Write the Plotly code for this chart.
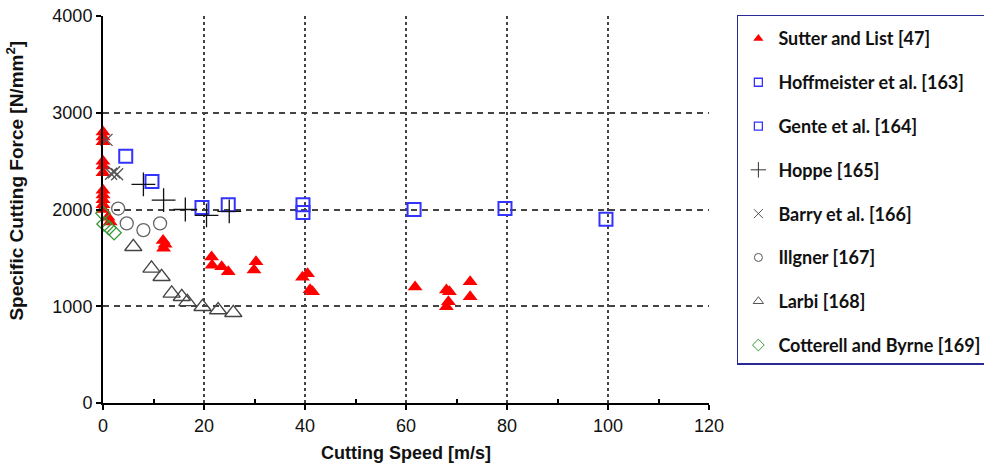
import plotly.graph_objects as go

# ---- data ----
sutter_x = [0, 0, 0, 0, 0, 0, 0, 0, 0, 0, 0, 1.0, 1.4,
            11.9, 12.3, 12.0,
            21.5, 21.6, 23.5, 24.8, 30.3, 29.9,
            39.5, 40.5, 41.0, 41.5,
            61.8, 68.0, 68.6, 68.4, 68.0, 72.7, 72.7]
sutter_y = [2800, 2750, 2700, 2500, 2450, 2380, 2200, 2150, 2100, 2050, 2000, 1920, 1870,
            1680, 1640, 1600,
            1510, 1425, 1408, 1356, 1460, 1374,
            1300, 1335, 1170, 1150,
            1200, 1167, 1150, 1046, 995, 1253, 1098]

hoff_x = [4.5, 9.7, 19.6, 24.8]
hoff_y = [2550, 2290, 2020, 2050]

gente_x = [39.6, 39.6, 61.6, 79.6, 99.6]
gente_y = [2050, 1970, 2000, 2010, 1900]

hoppe_x = [8.0, 12.0, 16.3, 20.5, 25.0]
hoppe_y = [2260, 2097, 2000, 1940, 1980]

barry_x = [0.7, 1.6, 2.2, 2.8]
barry_y = [2720, 2370, 2385, 2365]

illgner_x = [3.0, 4.7, 8.0, 11.3]
illgner_y = [2010, 1856, 1787, 1856]

larbi_x = [6.0, 9.6, 11.6, 13.6, 15.6, 16.7, 19.7, 22.8, 25.8]
larbi_y = [1615, 1392, 1305, 1133, 1098, 1046, 995, 961, 933]

cott_x = [0.0, 0.2, 1.2, 2.2]
cott_y = [1960, 1850, 1810, 1760]

names = ["Sutter and List [47]", "Hoffmeister et al. [163]", "Gente et al. [164]",
         "Hoppe [165]", "Barry et al. [166]", "Illgner [167]", "Larbi [168]",
         "Cotterell and Byrne [169]"]

x_ticks = [0, 20, 40, 60, 80, 100, 120]
y_ticks = [0, 1000, 2000, 3000, 4000]

# ---- styles ----
styles = [
    dict(symbol="triangle-up", size=13, color="#ff0000", line=dict(width=0)),
    dict(symbol="square-open", size=13, color="#3333ff", line=dict(width=2, color="#3333ff")),
    dict(symbol="square-open", size=13, color="#3333ff", line=dict(width=2, color="#3333ff")),
    dict(symbol="cross-thin-open", size=17, color="#111111", line=dict(width=1.3, color="#111111")),
    dict(symbol="x-thin-open", size=12, color="#555555", line=dict(width=1.3, color="#555555")),
    dict(symbol="circle-open", size=13, color="#666666", line=dict(width=1.3, color="#666666")),
    dict(symbol="triangle-up-open", size=15, color="#444444", line=dict(width=1.3, color="#444444")),
    dict(symbol="diamond-open", size=11, color="#339933", line=dict(width=1.3, color="#339933")),
]
legend_styles = [
    dict(symbol="triangle-up", size=9, color="#ff0000", line=dict(width=0)),
    dict(symbol="square-open", size=8, color="#3333ff", line=dict(width=1.3, color="#3333ff")),
    dict(symbol="square-open", size=8, color="#3333ff", line=dict(width=1.3, color="#3333ff")),
    dict(symbol="cross-thin-open", size=11, color="#333333", line=dict(width=1, color="#333333")),
    dict(symbol="x-thin-open", size=9, color="#555555", line=dict(width=1, color="#555555")),
    dict(symbol="circle-open", size=8, color="#555555", line=dict(width=1, color="#555555")),
    dict(symbol="triangle-up-open", size=9, color="#555555", line=dict(width=1, color="#555555")),
    dict(symbol="diamond-open", size=9, color="#339933", line=dict(width=1, color="#339933")),
]

series = [(sutter_x, sutter_y), (hoff_x, hoff_y), (gente_x, gente_y), (hoppe_x, hoppe_y),
          (barry_x, barry_y), (illgner_x, illgner_y), (larbi_x, larbi_y), (cott_x, cott_y)]

fig = go.Figure()
for i, ((xs, ys), st) in enumerate(zip(series, styles)):
    fig.add_trace(go.Scatter(x=xs, y=ys, mode="markers", marker=st,
                             showlegend=False, name=names[i], cliponaxis=False))
for i, st in enumerate(legend_styles):
    fig.add_trace(go.Scatter(x=[None], y=[None], mode="markers", marker=st,
                             name=names[i], legendgroup="g%d" % i, showlegend=True))

SANS = "Liberation Sans, Arial, sans-serif"
axis_font = dict(family=SANS, size=18, color="#111111")

fig.update_layout(
    width=984, height=466,
    margin=dict(l=103, r=275, t=16, b=63, autoexpand=False),
    paper_bgcolor="white", plot_bgcolor="white",
    showlegend=True,
    legend=dict(x=1.046, xanchor="left", y=1.003, yanchor="top", maxheight=1,
                bordercolor="#2a2a96", borderwidth=1.5, bgcolor="white",
                font=dict(family="Lato, Open Sans, sans-serif", size=18, color="#111111",
                          weight="bold"),
                title=dict(text=" ", font=dict(size=3)),
                tracegroupgap=17.4, itemsizing="trace"),
    xaxis=dict(range=[0, 120], tickvals=x_ticks, ticktext=[str(v) for v in x_ticks],
               showgrid=True, gridcolor="#444444", gridwidth=2, griddash="dot",
               showline=True, linecolor="black", linewidth=2, zeroline=False,
               ticks="outside", ticklen=5, tickwidth=1.5, tickcolor="black",
               minor=dict(tickvals=[10, 30, 50, 70, 90, 110], ticks="inside",
                          ticklen=4, tickwidth=1.5, tickcolor="black", showgrid=False),
               tickfont=axis_font,
               title=dict(text="<b>Cutting Speed [m/s]</b>",
                          font=dict(family=SANS, size=18, color="#111111"), standoff=12)),
    yaxis=dict(range=[0, 4000], tickvals=y_ticks, ticktext=[str(v) for v in y_ticks],
               showgrid=True, gridcolor="#444444", gridwidth=2, griddash="6px,5px",
               showline=True, linecolor="black", linewidth=2, zeroline=False,
               ticks="outside", ticklen=5, tickwidth=1.5, tickcolor="black",
               tickfont=axis_font),
)

fig.add_annotation(text="<b>Specific Cutting Force [N/mm<sup>2</sup>]</b>",
                   xref="paper", yref="paper", x=-0.145, y=0.575,
                   xanchor="center", yanchor="middle", textangle=-90, showarrow=False,
                   font=dict(family=SANS, size=19, color="#111111"))

fig.write_html("out.html")
